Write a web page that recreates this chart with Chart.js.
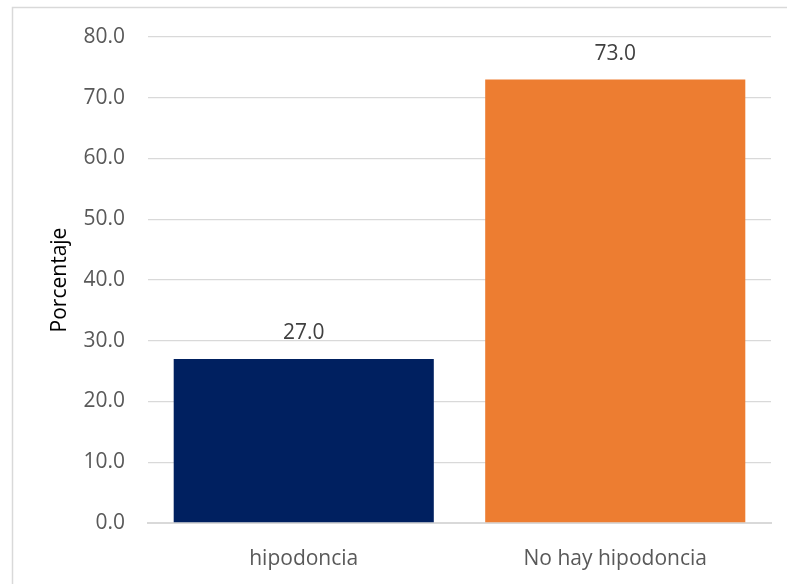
<!DOCTYPE html>
<html>
<head>
<meta charset="utf-8">
<script src="https://cdn.jsdelivr.net/npm/chart.js@4"></script>
<style>
  html, body { margin: 0; padding: 0; background: #ffffff; }
  canvas { display: block; }
</style>
</head>
<body>
<canvas id="chart" width="787" height="584"></canvas>
<script>
// Porcentaje de casos con y sin hipodoncia
const categories = ['hipodoncia', 'No hay hipodoncia'];
const porcentajes = [27.0, 73.0];
const barColors = ['#002060', '#ED7D31'];
const yTicks = { min: 0, max: 80, step: 10 };
const yTitle = 'Porcentaje';

const FONT = '"Open Sans", "DejaVu Sans", sans-serif';

// light frame around the whole figure
const framePlugin = {
  id: 'frame',
  beforeDraw(chart) {
    const ctx = chart.ctx;
    ctx.save();
    ctx.strokeStyle = '#d9d9d9';
    ctx.lineWidth = 1.5;
    ctx.strokeRect(12.5, 7.5, 900, 700);
    ctx.restore();
  }
};

// value printed above each bar
const valueLabels = {
  id: 'valueLabels',
  afterDatasetsDraw(chart) {
    const ctx = chart.ctx;
    ctx.save();
    ctx.font = '21px ' + FONT;
    ctx.fillStyle = '#404040';
    ctx.textAlign = 'center';
    ctx.textBaseline = 'middle';
    chart.data.datasets.forEach((ds, di) => {
      chart.getDatasetMeta(di).data.forEach((bar, i) => {
        ctx.fillText(Number(ds.data[i]).toFixed(1), bar.x, bar.y - 26);
      });
    });
    ctx.restore();
  }
};

new Chart(document.getElementById('chart'), {
  type: 'bar',
  data: {
    labels: categories,
    datasets: [{
      data: porcentajes,
      backgroundColor: barColors,
      borderWidth: 0,
      categoryPercentage: 1.0,
      barPercentage: 0.835
    }]
  },
  options: {
    responsive: false,
    animation: false,
    devicePixelRatio: 1,
    layout: { padding: { top: 37, right: 16, left: 0, bottom: 0 } },
    plugins: {
      legend: { display: false },
      tooltip: { enabled: false }
    },
    scales: {
      x: {
        grid: { display: false },
        border: { display: true, color: '#d9d9d9', width: 2 },
        ticks: {
          color: '#595959',
          font: { family: FONT, size: 21 },
          padding: 15,
          maxRotation: 0
        },
        afterFit(scale) { scale.height = 61; }
      },
      y: {
        min: yTicks.min,
        max: yTicks.max,
        grid: { color: '#d9d9d9', lineWidth: 1.3, drawTicks: false },
        border: { display: false },
        ticks: {
          stepSize: yTicks.step,
          color: '#595959',
          font: { family: FONT, size: 21 },
          padding: 23,
          callback: v => Number(v).toFixed(1)
        },
        title: {
          display: true,
          text: yTitle,
          color: '#000000',
          font: { family: FONT, size: 21 },
          padding: { top: 47, bottom: 0 }
        },
        afterFit(scale) { scale.width = 148; }
      }
    }
  },
  plugins: [framePlugin, valueLabels]
});
</script>
</body>
</html>
